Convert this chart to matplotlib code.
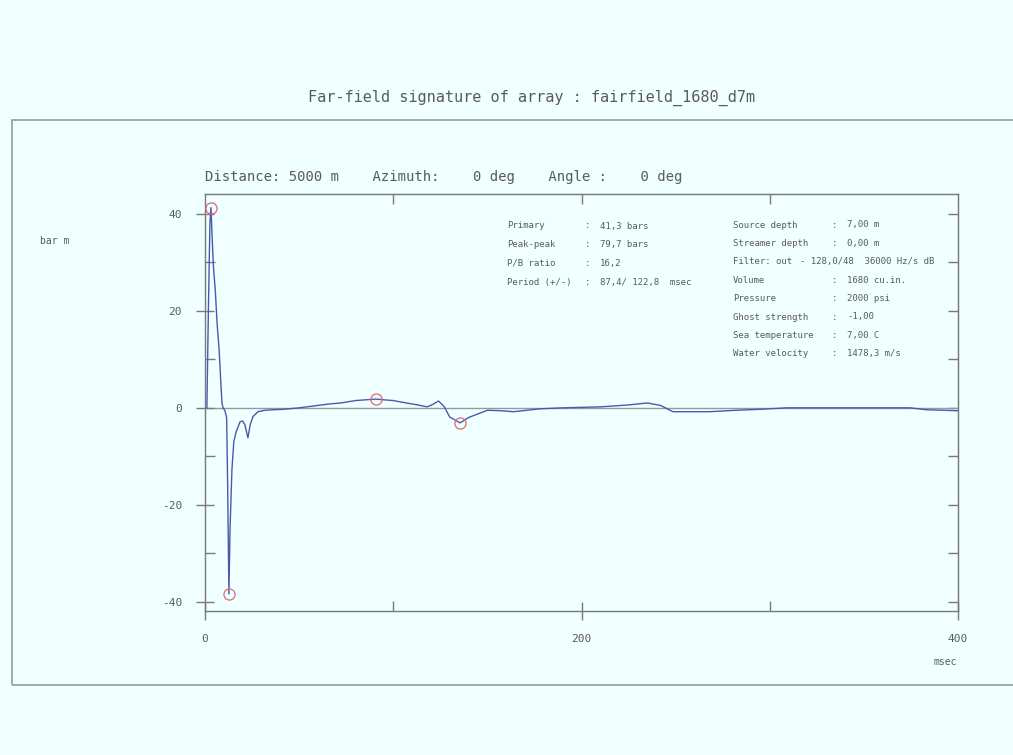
import matplotlib
matplotlib.use("Agg")
import matplotlib.pyplot as plt
from matplotlib.patches import Rectangle
from matplotlib.ticker import MultipleLocator, FixedLocator

plt.rcParams["axes.unicode_minus"] = False

# ---- data ----
time_ms = [0, 1.0, 1.8, 2.6, 3.2, 3.8, 4.5, 5.5, 6.5, 7.5, 8.3, 9.0, 9.6, 10.5,
           11.5, 12.0, 12.7, 13.3, 14.3, 15.3, 16.5, 18.6, 20.0, 21.2, 22.8, 24.0,
           25.5, 28.1, 31.9, 36, 42, 50, 58, 66, 72, 80, 90.6, 100, 107, 113,
           118, 121, 124, 127, 130, 135.5, 140, 150, 157, 164, 171, 178, 190,
           210, 225, 235, 242, 248.6, 260, 268, 282, 295, 309, 340, 374.5,
           383.5, 392, 400]
pressure_bar = [0, 0, 20, 38, 41.3, 35, 29, 24, 17, 12, 6, 1, 0, -0.5,
                -2, -15, -38.4, -25, -12.8, -7, -5, -2.9, -2.7, -3.5, -6.2, -3.5,
                -1.8, -0.8, -0.5, -0.4, -0.3, 0.0, 0.4, 0.8, 1.0, 1.5, 1.8, 1.5, 1.0, 0.6,
                0.2, 0.7, 1.4, 0.3, -1.9, -3.1, -2.0, -0.5, -0.6, -0.8, -0.5, -0.2, 0.0,
                0.2, 0.6, 1.0, 0.5, -0.8, -0.8, -0.8, -0.5, -0.3, 0.0, 0.0, 0.0,
                -0.4, -0.5, -0.6]
marker_t = [3.2, 12.7, 90.6, 135.5]
marker_p = [41.3, -38.4, 1.8, -3.1]

title = "Far-field signature of array : fairfield_1680_d7m"
header = "Distance: 5000 m    Azimuth:    0 deg    Angle :    0 deg"
info_left_labels = ["Primary", "Peak-peak", "P/B ratio", "Period (+/-)"]
info_left_values = ["41,3 bars", "79,7 bars", "16,2", "87,4/ 122,8  msec"]
info_right_labels = ["Source depth", "Streamer depth", "Filter: out", "Volume",
                     "Pressure", "Ghost strength", "Sea temperature", "Water velocity"]
info_right_values = ["7,00 m", "0,00 m", "- 128,0/48  36000 Hz/s dB", "1680 cu.in.",
                     "2000 psi", "-1,00", "7,00 C", "1478,3 m/s"]

# ---- figure ----
W, H = 1013, 755
bg = "#f0ffff"
tc = "#5a5a5a"
lc = "#7a7a7a"
fig = plt.figure(figsize=(W / 100, H / 100), dpi=100, facecolor=bg)
mono = "DejaVu Sans Mono"

def fx(px):
    return px / W

def fy(py):
    return 1 - py / H

# outer frame
fig.patches.append(Rectangle((fx(12), fy(685)), fx(1013) - fx(12) + 0.01, fy(120) - fy(685),
                             transform=fig.transFigure, fill=False, edgecolor="#999999",
                             linewidth=1.2))

ax = fig.add_axes([fx(205), fy(611), fx(958) - fx(205), fy(194) - fy(611)], facecolor=bg)
ax.axhline(0, color="#999999", linewidth=1.0, zorder=1)
ax.plot(time_ms, pressure_bar, color="#4a58b0", linewidth=1.0, zorder=2)
ax.plot(marker_t, marker_p, linestyle="none", marker="o", markersize=8,
        markerfacecolor="none", markeredgecolor="#e06a6a", markeredgewidth=0.9, zorder=3)

ax.set_xlim(0, 400)
ax.set_ylim(-41.9, 44.1)
for s in ax.spines.values():
    s.set_color(lc)
    s.set_linewidth(1.0)

ax.xaxis.set_major_locator(FixedLocator([0, 200, 400]))
ax.xaxis.set_minor_locator(FixedLocator([100, 300]))
ax.yaxis.set_major_locator(MultipleLocator(20))
ax.yaxis.set_minor_locator(FixedLocator([-30, -10, 10, 30]))
ax.tick_params(which="major", direction="inout", length=13, width=1.0, color=lc,
               labelcolor=tc, labelsize=8, top=False, right=False)
ax.tick_params(which="minor", direction="in", length=7, width=1.0, color=lc,
               top=False, right=False)
ax.tick_params(axis="x", pad=10)
ax.tick_params(axis="y", pad=10)
for lab in ax.get_xticklabels() + ax.get_yticklabels():
    lab.set_fontfamily(mono)

# inward ticks on top and right
sx = ax.secondary_xaxis("top")
sx.xaxis.set_major_locator(FixedLocator([100, 200, 300]))
sx.tick_params(direction="in", length=7, width=1.0, color=lc, labeltop=False)
sx.spines["top"].set_color(lc)
sy = ax.secondary_yaxis("right")
sy.yaxis.set_major_locator(FixedLocator([-40, -30, -20, -10, 0, 10, 20, 30, 40]))
sy.tick_params(direction="in", length=7, width=1.0, color=lc, labelright=False)
sy.spines["right"].set_color(lc)

# texts
fig.text(fx(532), fy(98), title, ha="center", va="center", fontsize=11,
         family=mono, color=tc)
fig.text(fx(205), fy(177), header, ha="left", va="center", fontsize=10,
         family=mono, color=tc)
fig.text(fx(40), fy(241), "bar m", ha="left", va="center", fontsize=7,
         family=mono, color=tc)
fig.text(fx(957), fy(662), "msec", ha="right", va="center", fontsize=7,
         family=mono, color=tc)

y0, dy = 226, 18.7
for i, (lab, val) in enumerate(zip(info_left_labels, info_left_values)):
    y = fy(y0 + i * dy)
    fig.text(fx(507), y, lab, ha="left", va="center", fontsize=6.5, family=mono, color=tc)
    fig.text(fx(585), y, ":", ha="left", va="center", fontsize=6.5, family=mono, color=tc)
    fig.text(fx(600), y, val, ha="left", va="center", fontsize=6.5, family=mono, color=tc)

y0, dy = 225, 18.4
for i, (lab, val) in enumerate(zip(info_right_labels, info_right_values)):
    y = fy(y0 + i * dy)
    fig.text(fx(733), y, lab, ha="left", va="center", fontsize=6.5, family=mono, color=tc)
    if lab.startswith("Filter"):
        fig.text(fx(800), y, val, ha="left", va="center", fontsize=6.5, family=mono, color=tc)
    else:
        fig.text(fx(832), y, ":", ha="left", va="center", fontsize=6.5, family=mono, color=tc)
        fig.text(fx(847), y, val, ha="left", va="center", fontsize=6.5, family=mono, color=tc)

fig.savefig("out.png", dpi=100, facecolor=bg)
